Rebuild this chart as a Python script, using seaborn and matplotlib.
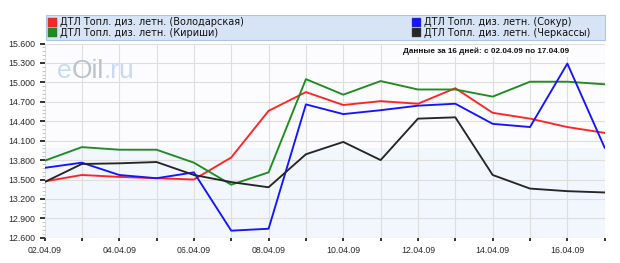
import matplotlib
matplotlib.use("Agg")
import matplotlib.pyplot as plt
from matplotlib.patches import Rectangle
from matplotlib.ticker import FixedLocator, FuncFormatter
from matplotlib.transforms import offset_copy
import seaborn as sns
import pandas as pd

# ---- data ----
dates = ["02.04.09", "03.04.09", "04.04.09", "05.04.09", "06.04.09", "07.04.09",
         "08.04.09", "09.04.09", "10.04.09", "11.04.09", "12.04.09", "13.04.09",
         "14.04.09", "15.04.09", "16.04.09", "17.04.09"]
series_names = ["ДТЛ Топл. диз. летн. (Володарская)",
                "ДТЛ Топл. диз. летн. (Кириши)",
                "ДТЛ Топл. диз. летн. (Сокур)",
                "ДТЛ Топл. диз. летн. (Черкассы)"]
volodarskaya = [13470, 13570, 13540, 13520, 13500, 13840, 14560, 14850,
                14650, 14710, 14670, 14910, 14530, 14440, 14310, 14220]
kirishi = [13790, 14000, 13960, 13960, 13760, 13420, 13610, 15050,
           14810, 15020, 14890, 14890, 14780, 15010, 15010, 14970]
sokur = [13680, 13760, 13570, 13520, 13610, 12710, 12740, 14660,
         14510, 14570, 14640, 14670, 14360, 14310, 15290, 13990]
cherkassy = [13460, 13740, 13750, 13770, 13570, 13460, 13380, 13890,
             14080, 13800, 14440, 14460, 13570, 13360, 13320, 13300]
colors = ["#ff2424", "#1f8c1f", "#1414ff", "#262626"]
y_ticks = [12600, 12900, 13200, 13500, 13800, 14100, 14400, 14700, 15000, 15300, 15600]
subtitle = "Данные за 16 дней: с 02.04.09 по 17.04.09"
watermark_parts = [("e", "#c6dbf1"), ("Oil", "#b9c3cc"), (".ru", "#c6dbf1")]

all_values = [volodarskaya, kirishi, sokur, cherkassy]
rows = []
for name, vals in zip(series_names, all_values):
    for i, v in enumerate(vals):
        rows.append({"day": i, "price": v, "series": name})
df = pd.DataFrame(rows)

W, H = 620, 263
fig = plt.figure(figsize=(W / 100, H / 100), dpi=100)
fig.patch.set_facecolor("white")

def fx(px):
    return px / W

def fy(py):
    return 1 - py / H

left, right, top, bottom = 44.5, 604.7, 43.5, 237.8
ax = fig.add_axes([fx(left), fy(bottom), fx(right - left), (bottom - top) / H])
ax.set_facecolor("#fcfbfe")
ax.axhspan(12600, 13990, color="#f2f6fd", zorder=0, lw=0)

sns.lineplot(data=df, x="day", y="price", hue="series", hue_order=series_names,
             palette=dict(zip(series_names, colors)), linewidth=1.35, ax=ax,
             legend=False, zorder=3)

ax.set_xlim(0, len(dates) - 1)
ax.set_ylim(y_ticks[0], y_ticks[-1])
ax.set_xlabel("")
ax.set_ylabel("")
for s in ax.spines.values():
    s.set_visible(False)

ax.set_xticks(range(len(dates)))
ax.set_xticklabels([d if i % 2 == 0 else "" for i, d in enumerate(dates)],
                   fontsize=6.3, color="#2a2a2a", family="Liberation Sans")
ax.set_yticks(y_ticks)
ax.yaxis.set_major_formatter(FuncFormatter(lambda v, p: f"{int(v):,}".replace(",", ".")))
ax.yaxis.set_minor_locator(FixedLocator([v for v in range(y_ticks[0], y_ticks[-1], 60)
                                         if v % 300 != 0]))
for lab in ax.get_yticklabels():
    lab.set_fontsize(6.3)
    lab.set_color("#2a2a2a")
    lab.set_family("Liberation Sans")
ax.tick_params(axis="y", which="major", length=3.5, width=1.4, color="#333333", pad=3)
ax.tick_params(axis="y", which="minor", length=2, width=0.6, color="#bbbbbb")
ax.tick_params(axis="x", which="major", length=2.5, width=1.4, color="#333333", pad=3.5)
ax.grid(True, which="major", color="#dedede", lw=0.8, zorder=1)
ax.set_axisbelow(True)

# watermark (coloured parts placed one after another)
fig.canvas.draw()
renderer = fig.canvas.get_renderer()
x0 = 57
for part, col in watermark_parts:
    t = fig.text(fx(x0), fy(78), part, fontsize=19, color=col,
                 family="Liberation Sans", ha="left", va="baseline", zorder=0)
    bb = t.get_window_extent(renderer=renderer)
    x0 += bb.width

# subtitle
fig.text(fx(569), fy(51.5), subtitle, fontsize=5.9, fontweight="bold",
         color="#111111", family="Liberation Sans", ha="right", va="center",
         bbox=dict(facecolor="white", edgecolor="none", pad=1.5))

# legend box
fig.patches.append(Rectangle((fx(45.7), fy(39.5)), fx(605 - 45.7), (39.5 - 15) / H,
                             transform=fig.transFigure, facecolor="#d6e4f5",
                             edgecolor="#a9c4e8", lw=0.8, zorder=1))
legend_pos = [(47.7, 22), (47.7, 32.5), (412, 22), (412, 32.5)]
for (lx, ly), name, c in zip(legend_pos, series_names, colors):
    fig.patches.append(Rectangle((fx(lx), fy(ly + 4.5)), fx(9), 9 / H,
                                 transform=fig.transFigure, facecolor=c,
                                 edgecolor="#555555", lw=0.3, zorder=2))
    fig.text(fx(lx + 12), fy(ly), name, fontsize=7, color="#111111",
             family="DejaVu Sans", ha="left", va="center", zorder=3)

fig.savefig("out.png", dpi=100)
